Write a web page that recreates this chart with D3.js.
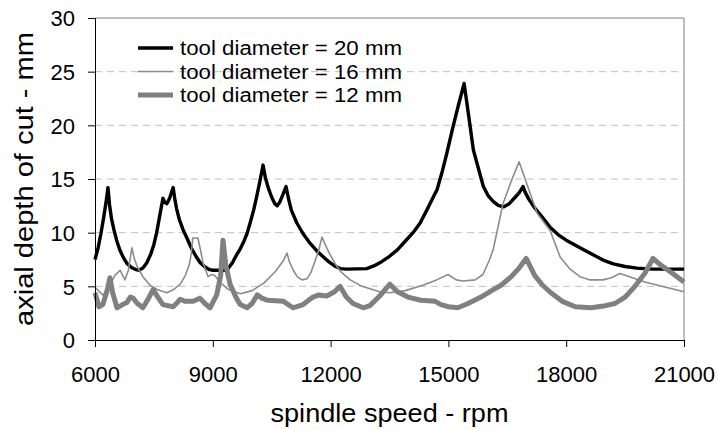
<!DOCTYPE html>
<html>
<head>
<meta charset="utf-8">
<script src="https://cdn.jsdelivr.net/npm/d3@7"></script>
<style>
  body { margin: 0; background: #fff; }
  svg { display: block; font-family: "Liberation Sans", Arial, sans-serif; }
</style>
</head>
<body>
<svg class="main-canvas" width="718" height="430"></svg>
<script>
"use strict";

// series: [rpm, axial depth of cut in mm]
const tool20 = [
  [6000, 7.5], [6080, 8.6], [6150, 9.9], [6220, 11.4], [6280, 12.8], [6330, 14.2],
  [6370, 12.6], [6420, 11.3], [6480, 10.3], [6550, 9.3], [6630, 8.4], [6720, 7.7],
  [6820, 7.1], [6930, 6.75], [7050, 6.55], [7120, 6.5], [7220, 6.7], [7320, 7.2],
  [7420, 8.0], [7500, 8.9], [7570, 10.0], [7640, 11.4], [7700, 12.6], [7730, 13.2],
  [7780, 12.8], [7830, 12.7], [7900, 13.2], [7990, 14.2], [8030, 13.2], [8080, 12.2],
  [8150, 11.2], [8240, 10.3], [8340, 9.5], [8450, 8.6], [8570, 7.8], [8680, 7.2],
  [8800, 6.8], [8920, 6.55], [9000, 6.5], [9300, 6.5], [9400, 6.7], [9500, 7.2],
  [9600, 7.9], [9700, 8.5], [9780, 9.1], [9870, 9.9], [9950, 10.9], [10040, 12.1],
  [10120, 13.4], [10200, 14.8], [10280, 16.3], [10340, 15.1], [10420, 14.1],
  [10500, 13.3], [10580, 12.7], [10640, 12.5], [10700, 12.8], [10780, 13.5],
  [10865, 14.3], [10920, 13.3], [11000, 12.1], [11140, 10.9], [11300, 9.9],
  [11480, 9.0], [11650, 8.3], [11810, 7.75], [11950, 7.3], [12100, 6.9],
  [12250, 6.65], [12400, 6.6], [12920, 6.65], [13100, 6.9], [13300, 7.3],
  [13500, 7.8], [13700, 8.4], [13900, 9.2], [14100, 10.0], [14280, 10.9],
  [14450, 12.1], [14600, 13.2], [14710, 14.0], [14850, 15.8], [14960, 17.4],
  [15100, 19.6], [15250, 21.8], [15400, 23.9], [15520, 20.8], [15636, 17.7],
  [15763, 16.0], [15891, 14.3], [16020, 13.4], [16146, 12.9], [16270, 12.55],
  [16400, 12.4], [16550, 12.7], [16700, 13.3], [16800, 13.7], [16900, 14.3],
  [16950, 13.8], [17050, 13.1], [17200, 12.3], [17400, 11.4], [17590, 10.5],
  [17800, 9.8], [18000, 9.3], [18200, 8.9], [18350, 8.6], [18600, 8.1],
  [18940, 7.45], [19200, 7.1], [19500, 6.85], [19800, 6.7], [20200, 6.6], [21000, 6.6]
];

const tool16 = [
  [6000, 4.9], [6200, 4.2], [6350, 4.8], [6500, 6.0], [6640, 6.5], [6760, 5.6],
  [6850, 6.5], [6940, 8.6], [7000, 7.6], [7080, 6.8], [7220, 5.9], [7400, 5.1],
  [7580, 4.7], [7830, 4.4], [8000, 4.7], [8170, 5.2], [8300, 6.0], [8400, 7.0],
  [8450, 8.0], [8490, 9.5], [8620, 9.5], [8680, 8.5], [8750, 7.2], [8880, 5.9],
  [8970, 6.1], [9050, 6.0], [9180, 5.4], [9400, 4.7], [9700, 4.3], [10000, 4.6],
  [10300, 5.3], [10600, 6.4], [10800, 7.4], [10890, 8.1], [10950, 7.3], [11050, 6.5],
  [11150, 5.9], [11270, 5.6], [11400, 5.7], [11500, 6.3], [11600, 7.3], [11700, 8.4],
  [11780, 9.6], [11850, 9.0], [11950, 8.2], [12100, 7.2], [12250, 6.4], [12500, 5.6],
  [12800, 5.0], [13250, 4.5], [13500, 4.4], [13900, 4.6], [14350, 5.1], [14700, 5.6],
  [14990, 6.1], [15200, 5.6], [15370, 5.5], [15680, 5.6], [15880, 6.1], [16050, 7.5],
  [16140, 8.4], [16390, 12.7], [16600, 14.8], [16800, 16.6], [17050, 14.0],
  [17260, 11.8], [17590, 10.2], [17850, 7.7], [18100, 6.6], [18350, 5.9], [18610, 5.6],
  [18940, 5.6], [19150, 5.8], [19370, 6.2], [20000, 5.4], [21000, 4.5]
];

const tool12 = [
  [6000, 4.4], [6100, 3.1], [6200, 3.3], [6300, 4.5], [6380, 5.8], [6450, 4.4],
  [6560, 3.0], [6700, 3.3], [6815, 3.5], [6900, 4.0], [6970, 3.9], [7080, 3.4],
  [7220, 3.0], [7350, 3.8], [7480, 4.7], [7600, 4.0], [7730, 3.3], [7990, 3.1],
  [8100, 3.5], [8170, 3.8], [8300, 3.6], [8500, 3.6], [8670, 3.9], [8800, 3.4],
  [8930, 3.0], [9100, 4.2], [9200, 6.0], [9260, 9.3], [9330, 7.0], [9440, 5.2],
  [9600, 3.9], [9700, 3.3], [9870, 3.0], [10000, 3.4], [10130, 4.2], [10250, 3.9],
  [10400, 3.7], [10800, 3.6], [11040, 3.0], [11300, 3.3], [11550, 4.0], [11700, 4.2],
  [11900, 4.1], [12100, 4.5], [12240, 5.0], [12400, 4.0], [12570, 3.4], [12830, 3.0],
  [13000, 3.2], [13250, 4.1], [13510, 5.2], [13700, 4.5], [13970, 4.0], [14300, 3.7],
  [14660, 3.6], [14810, 3.3], [15000, 3.1], [15240, 3.0], [15500, 3.4], [15830, 4.0],
  [16100, 4.6], [16340, 5.1], [16600, 5.9], [16800, 6.7], [16980, 7.6], [17200, 6.0],
  [17400, 5.1], [17610, 4.4], [17900, 3.6], [18230, 3.1], [18630, 3.0], [19000, 3.2],
  [19240, 3.4], [19500, 4.0], [19750, 5.0], [20000, 6.2], [20210, 7.6], [20400, 7.0],
  [20600, 6.5], [21000, 5.4]
];

const seriesNames = ["tool diameter = 20 mm", "tool diameter = 16 mm", "tool diameter = 12 mm"];
const xTicks = [6000, 9000, 12000, 15000, 18000, 21000];
const yTicks = [0, 5, 10, 15, 20, 25, 30];

const series = [
  { name: seriesNames[0], values: tool20, color: "#000000", width: 3.4 },
  { name: seriesNames[1], values: tool16, color: "#8c8c8c", width: 1.6 },
  { name: seriesNames[2], values: tool12, color: "#808080", width: 5 }
];

const margin = { left: 95, right: 34, top: 18, bottom: 90 };
const W = 718, H = 430;

let svg = d3.select('.main-canvas');

const x = d3.scaleLinear().domain([6000, 21000]).range([margin.left, W - margin.right]);
const y = d3.scaleLinear().domain([0, 30]).range([H - margin.bottom, margin.top]);

// dashed gridlines
svg.append('g')
   .selectAll('line')
   .data(yTicks.filter(t => t > 0 && t < 30))
   .enter()
   .append('line')
   .attr('x1', x(6000)).attr('x2', x(21000))
   .attr('y1', d => y(d)).attr('y2', d => y(d))
   .attr('stroke', '#c0c0c0')
   .attr('stroke-width', 1)
   .attr('stroke-dasharray', '7,5');

// plot border top/right
svg.append('path')
   .attr('d', `M${x(6000)},${y(30)}H${x(21000)}V${y(0)}`)
   .attr('fill', 'none')
   .attr('stroke', '#808080')
   .attr('stroke-width', 1);

const line = d3.line()
               .x(d => x(d[0]))
               .y(d => y(d[1]));

svg.append('g')
   .selectAll('path')
   .data(series)
   .enter()
   .append('path')
   .attr('d', s => line(s.values))
   .attr('fill', 'none')
   .attr('stroke', s => s.color)
   .attr('stroke-width', s => s.width)
   .attr('stroke-linejoin', 'round');

// axes
const xAxis = svg.append('g')
   .attr('transform', `translate(0,${y(0)})`)
   .call(d3.axisBottom(x).tickValues(xTicks).tickSize(7).tickPadding(19).tickFormat(d3.format('d')));
const yAxis = svg.append('g')
   .attr('transform', `translate(${x(6000)},0)`)
   .call(d3.axisLeft(y).tickValues(yTicks).tickSize(7).tickPadding(13));

for (let ax of [xAxis, yAxis]) {
  ax.select('.domain').attr('stroke', '#000');
  ax.selectAll('.tick line').attr('stroke', '#000');
  ax.selectAll('.tick text')
    .attr('font-family', '"Liberation Sans", Arial, sans-serif')
    .attr('font-size', 22)
    .attr('fill', '#000');
}
yAxis.selectAll('.tick text').attr('dy', '0.36em');

// axis titles
svg.append('text')
   .attr('x', (x(6000) + x(21000)) / 2)
   .attr('y', 422)
   .attr('text-anchor', 'middle')
   .attr('font-size', 25)
   .attr('textLength', 238)
   .attr('lengthAdjust', 'spacingAndGlyphs')
   .text('spindle speed - rpm');

svg.append('text')
   .attr('transform', `translate(33,${(y(0) + y(30)) / 2}) rotate(-90)`)
   .attr('text-anchor', 'middle')
   .attr('font-size', 25)
   .attr('textLength', 294)
   .attr('lengthAdjust', 'spacingAndGlyphs')
   .text('axial depth of cut - mm');

// legend
const legend = svg.append('g')
                  .selectAll('g')
                  .data(series)
                  .enter()
                  .append('g')
                  .attr('transform', (s, i) => `translate(138,${48 + i * 23.5})`);
legend.append('line')
      .attr('x1', 0).attr('x2', 35)
      .attr('stroke', s => s.color)
      .attr('stroke-width', s => s.width);
legend.append('text')
      .attr('x', 42)
      .attr('dy', '0.36em')
      .attr('font-size', 20)
      .attr('textLength', 222)
      .attr('lengthAdjust', 'spacingAndGlyphs')
      .text(s => s.name);
</script>
</body>
</html>
